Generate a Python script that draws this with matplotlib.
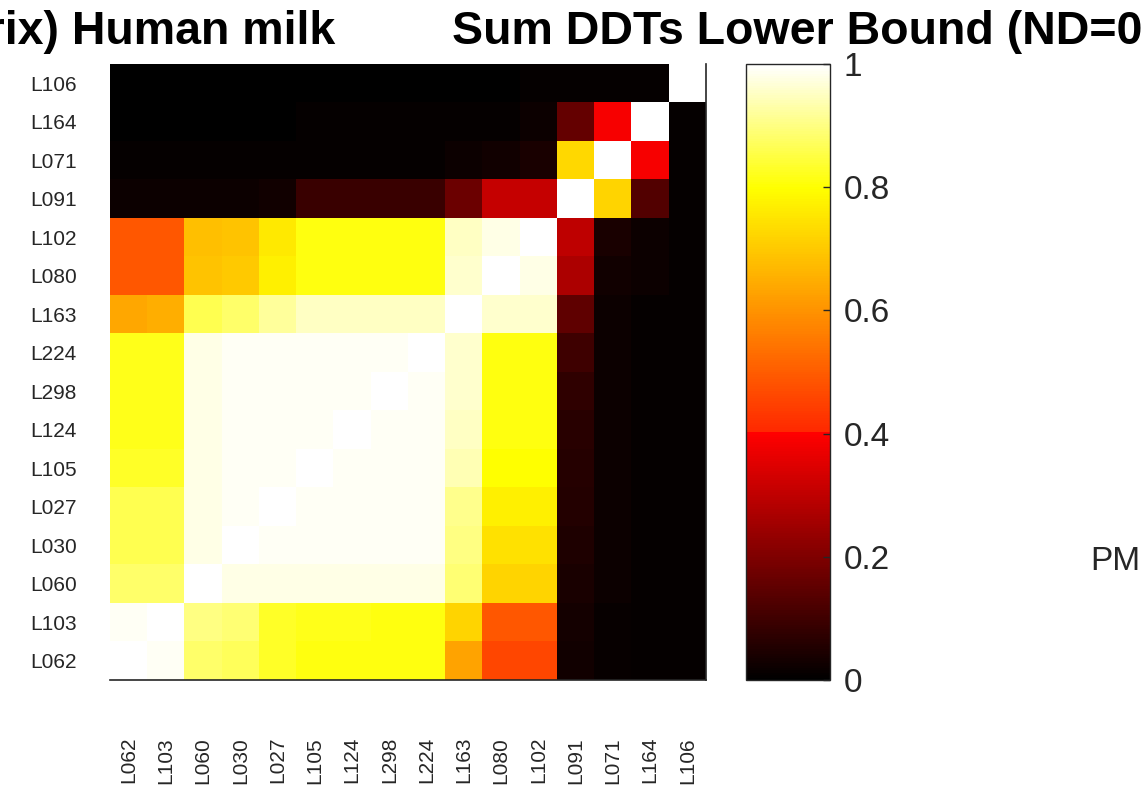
import numpy as np
import matplotlib
matplotlib.use("Agg")
import matplotlib.pyplot as plt
from matplotlib.colors import LinearSegmentedColormap

# ---- data -------------------------------------------------------------
col_labels = ["L062", "L103", "L060", "L030", "L027", "L105", "L124", "L298",
              "L224", "L163", "L080", "L102", "L091", "L071", "L164", "L106"]
row_labels = ["L106", "L164", "L071", "L091", "L102", "L080", "L163", "L224",
              "L298", "L124", "L105", "L027", "L030", "L060", "L103", "L062"]

row_L106 = [0.00, 0.00, 0.00, 0.00, 0.00, 0.00, 0.00, 0.00, 0.00, 0.00, 0.00, 0.01, 0.01, 0.01, 0.01, 1.00]
row_L164 = [0.00, 0.00, 0.00, 0.00, 0.00, 0.01, 0.01, 0.01, 0.01, 0.01, 0.01, 0.02, 0.16, 0.39, 1.00, 0.01]
row_L071 = [0.01, 0.01, 0.01, 0.01, 0.01, 0.01, 0.01, 0.01, 0.01, 0.02, 0.03, 0.04, 0.73, 1.00, 0.39, 0.01]
row_L091 = [0.02, 0.02, 0.02, 0.02, 0.03, 0.09, 0.09, 0.09, 0.09, 0.17, 0.31, 0.31, 1.00, 0.72, 0.13, 0.01]
row_L102 = [0.49, 0.49, 0.68, 0.69, 0.76, 0.81, 0.81, 0.81, 0.81, 0.95, 0.98, 1.00, 0.30, 0.04, 0.02, 0.01]
row_L080 = [0.49, 0.49, 0.69, 0.70, 0.77, 0.81, 0.81, 0.81, 0.81, 0.96, 1.00, 0.98, 0.27, 0.03, 0.02, 0.01]
row_L163 = [0.64, 0.65, 0.86, 0.88, 0.92, 0.95, 0.95, 0.95, 0.95, 1.00, 0.96, 0.96, 0.15, 0.02, 0.01, 0.01]
row_L224 = [0.82, 0.82, 0.98, 0.99, 0.99, 0.99, 0.99, 0.99, 1.00, 0.96, 0.81, 0.81, 0.10, 0.02, 0.01, 0.01]
row_L298 = [0.82, 0.82, 0.98, 0.99, 0.99, 0.99, 0.99, 1.00, 0.99, 0.96, 0.81, 0.81, 0.075, 0.02, 0.01, 0.01]
row_L124 = [0.82, 0.82, 0.98, 0.99, 0.99, 0.99, 1.00, 0.99, 0.99, 0.95, 0.81, 0.81, 0.065, 0.02, 0.01, 0.01]
row_L105 = [0.83, 0.83, 0.98, 0.99, 0.99, 1.00, 0.99, 0.99, 0.99, 0.94, 0.80, 0.80, 0.06, 0.02, 0.01, 0.01]
row_L027 = [0.86, 0.86, 0.98, 0.99, 1.00, 0.99, 0.99, 0.99, 0.99, 0.91, 0.77, 0.77, 0.055, 0.02, 0.01, 0.01]
row_L030 = [0.86, 0.86, 0.98, 1.00, 0.99, 0.99, 0.99, 0.99, 0.99, 0.90, 0.745, 0.745, 0.05, 0.02, 0.01, 0.01]
row_L060 = [0.88, 0.88, 1.00, 0.98, 0.98, 0.98, 0.98, 0.98, 0.98, 0.89, 0.72, 0.72, 0.04, 0.02, 0.01, 0.01]
row_L103 = [0.99, 1.00, 0.90, 0.89, 0.83, 0.82, 0.82, 0.81, 0.81, 0.72, 0.49, 0.49, 0.035, 0.015, 0.01, 0.01]
row_L062 = [1.00, 0.99, 0.88, 0.87, 0.83, 0.81, 0.81, 0.81, 0.81, 0.63, 0.46, 0.46, 0.03, 0.015, 0.01, 0.01]

matrix = np.array([row_L106, row_L164, row_L071, row_L091, row_L102, row_L080,
                   row_L163, row_L224, row_L298, row_L124, row_L105, row_L027,
                   row_L030, row_L060, row_L103, row_L062])

cbar_ticks = [0, 0.2, 0.4, 0.6, 0.8, 1.0]
cbar_tick_labels = ["0", "0.2", "0.4", "0.6", "0.8", "1"]

# ---- colormap (hot-like, red at 0.4, yellow at 0.8, white at 1) ------
cdict = {
    "red":   [(0.0, 0.0, 0.0), (0.4, 1.0, 1.0), (1.0, 1.0, 1.0)],
    "green": [(0.0, 0.0, 0.0), (0.4, 0.0, 0.15), (0.8, 1.0, 1.0), (1.0, 1.0, 1.0)],
    "blue":  [(0.0, 0.0, 0.0), (0.8, 0.0, 0.0), (1.0, 1.0, 1.0)],
}
cmap = LinearSegmentedColormap("hotlike", cdict, N=256)

# ---- figure -----------------------------------------------------------
W, H = 1141, 796
fig = plt.figure(figsize=(W / 100, H / 100), dpi=100)
fig.patch.set_facecolor("white")

def px_axes(x0, y0, x1, y1):
    return fig.add_axes([x0 / W, 1 - y1 / H, (x1 - x0) / W, (y1 - y0) / H])

ax = px_axes(110, 64, 706, 680)
im = ax.imshow(matrix, cmap=cmap, vmin=0, vmax=1, aspect="auto",
               interpolation="nearest")

ax.set_xticks(range(len(col_labels)))
ax.set_xticklabels(col_labels, rotation=90, va="top", ha="center",
                   fontsize=15, family="Liberation Sans", color="#262626")
ax.set_yticks(range(len(row_labels)))
ax.set_yticklabels(row_labels, fontsize=15, family="Liberation Sans",
                   color="#262626")
ax.tick_params(axis="x", length=0, pad=41)
ax.tick_params(axis="y", length=0, pad=24)
for s in ["top", "left"]:
    ax.spines[s].set_visible(False)
for s in ["bottom", "right"]:
    ax.spines[s].set_color("#262626")
    ax.spines[s].set_linewidth(1.2)

cax = px_axes(746, 64, 830, 680)
cb = fig.colorbar(im, cax=cax, ticks=cbar_ticks)
cb.set_ticklabels(cbar_tick_labels)
cb.outline.set_edgecolor("#262626")
cb.outline.set_linewidth(1.0)
cax.tick_params(direction="in", length=5, width=1, color="#262626",
                labelsize=24, pad=10, labelcolor="#262626")
for t in cax.get_yticklabels():
    t.set_family("Liberation Sans")

# ---- titles / stray text -----------------------------------------------
fig.text(335 / W, 1 - 44 / H, "(Correlation matrix) Human milk",
         ha="right", va="baseline", fontsize=33.5, fontweight="bold",
         family="Liberation Sans", color="black")
fig.text(452 / W, 1 - 44 / H, "Sum DDTs Lower Bound (ND=0)",
         ha="left", va="baseline", fontsize=33.5, fontweight="bold",
         family="Liberation Sans", color="black")
fig.text(1090 / W, 1 - 570 / H, "PM", ha="left", va="baseline",
         fontsize=24, family="Liberation Sans", color="#262626")

fig.savefig("out.png", dpi=100, facecolor="white")
